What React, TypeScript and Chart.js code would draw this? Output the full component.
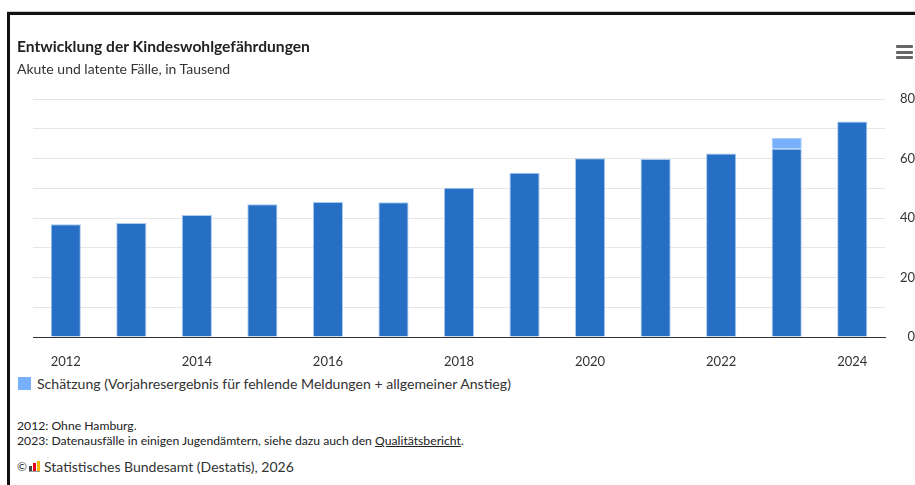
import React, { useEffect, useRef } from "react";
import { Chart, registerables } from "chart.js";

Chart.register(...registerables);

const years = ["2012", "2013", "2014", "2015", "2016", "2017", "2018", "2019", "2020", "2021", "2022", "2023", "2024"];
const erfasst = [37.9, 38.3, 41.0, 44.6, 45.4, 45.3, 50.2, 55.2, 60.1, 59.8, 61.7, 63.3, 72.4];
const schaetzung = [null, null, null, null, null, null, null, null, null, null, null, 3.6, null];
const yTicksShown = [0, 20, 40, 60, 80];

const FONT = "Lato, 'Open Sans', sans-serif";
const DARK = "#266fc5";
const LIGHT = "#78b0fc";

export default function App() {
  const ref = useRef<HTMLCanvasElement | null>(null);

  useEffect(() => {
    if (!ref.current) return;
    const chart = new Chart(ref.current, {
      type: "bar",
      data: {
        labels: years,
        datasets: [
          {
            label: "Erfasst",
            data: erfasst,
            backgroundColor: DARK,
            borderColor: "#a9c9f0",
            borderWidth: 1,
            barPercentage: 0.46,
            categoryPercentage: 1,
          },
          {
            label: "Schätzung (Vorjahresergebnis für fehlende Meldungen + allgemeiner Anstieg)",
            data: schaetzung as any,
            backgroundColor: LIGHT,
            borderColor: "#a9c9f0",
            borderWidth: 1,
            barPercentage: 0.46,
            categoryPercentage: 1,
          },
        ],
      },
      options: {
        animation: false,
        responsive: false,
        maintainAspectRatio: false,
        layout: { padding: { left: 33, top: 99, right: 0, bottom: 0 } },
        plugins: { legend: { display: false }, tooltip: { enabled: false }, title: { display: false } },
        scales: {
          x: {
            stacked: true,
            grid: { display: false },
            border: { display: true, color: "#333333", width: 1 },
            ticks: {
              autoSkip: false,
              maxRotation: 0,
              padding: 9,
              color: "#333333",
              font: { family: FONT, size: 13 },
              callback: (_v: any, i: number) => (i % 2 === 0 ? years[i] : ""),
            },
            afterFit: (s: any) => {
              s.height = 33;
            },
          },
          y: {
            stacked: true,
            position: "right",
            min: 0,
            max: 80,
            grid: {
              drawTicks: false,
              color: (c: any) => (c.tick && c.tick.value === 0 ? "#333333" : "#e6e6e6"),
              lineWidth: 1,
            },
            border: { display: false },
            ticks: {
              stepSize: 10,
              padding: 15,
              crossAlign: "far",
              color: "#333333",
              font: { family: FONT, size: 13 },
              callback: (v: any) => (yTicksShown.includes(Number(v)) ? String(v) : ""),
            },
            afterFit: (s: any) => {
              s.width = 30;
            },
          },
        },
      },
    });
    return () => chart.destroy();
  }, []);

  const text: React.CSSProperties = { position: "absolute", fontFamily: FONT, whiteSpace: "nowrap", margin: 0 };

  return (
    <div style={{ position: "absolute", left: 0, top: 0, width: 915, height: 485, overflow: "hidden", background: "#fff" }}>
      <div style={{ position: "absolute", left: 7, top: 11, width: 1000, height: 1, background: "#cccccc" }} />
      <div
        style={{
          position: "absolute",
          left: 7,
          top: 12,
          width: 1000,
          height: 600,
          borderTop: "3px solid #111",
          borderLeft: "3px solid #111",
        }}
      />
      <canvas ref={ref} width={915} height={370} style={{ position: "absolute", left: 0, top: 0, width: 915, height: 370 }} />
      <div style={{ ...text, left: 17, top: 37, fontSize: 15.6, fontWeight: 700, color: "#222" }}>
        Entwicklung der Kindeswohlgefährdungen
      </div>
      <div style={{ ...text, left: 17, top: 60, fontSize: 14, color: "#333" }}>Akute und latente Fälle, in Tausend</div>
      {/* menu icon */}
      {[45, 50.5, 56].map((y) => (
        <div key={y} style={{ position: "absolute", left: 896, top: y, width: 17, height: 3, background: "#666", borderRadius: 1 }} />
      ))}
      {/* legend */}
      <div style={{ position: "absolute", left: 18, top: 377, width: 13, height: 13, background: LIGHT }} />
      <div style={{ ...text, left: 37, top: 375, fontSize: 14.1, color: "#333" }}>
        Schätzung (Vorjahresergebnis für fehlende Meldungen + allgemeiner Anstieg)
      </div>
      {/* footnotes */}
      <div style={{ ...text, left: 17, top: 418, fontSize: 12.2, color: "#222" }}>2012: Ohne Hamburg.</div>
      <div style={{ ...text, left: 17, top: 433, fontSize: 12.2, color: "#222" }}>
        2023: Datenausfälle in einigen Jugendämtern, siehe dazu auch den{" "}
        <span style={{ textDecoration: "underline" }}>Qualitätsbericht</span>.
      </div>
      <div style={{ ...text, left: 17, top: 458, fontSize: 14, color: "#333", display: "flex", alignItems: "center" }}>
        <span style={{ fontSize: 12 }}>©</span>
        <span style={{ position: "relative", display: "inline-block", width: 11, height: 10, margin: "0 4px 0 2px" }}>
          <span style={{ position: "absolute", left: 0, bottom: 1, width: 3, height: 5, background: "#444" }} />
          <span style={{ position: "absolute", left: 4, bottom: 1, width: 3, height: 8, background: "#e2001a" }} />
          <span style={{ position: "absolute", left: 8, bottom: 1, width: 3, height: 10, background: "#f6b500" }} />
          <span style={{ position: "absolute", left: 0, bottom: 0, width: 11, height: 1, background: "#999" }} />
        </span>
        Statistisches Bundesamt (Destatis), 2026
      </div>
    </div>
  );
}
